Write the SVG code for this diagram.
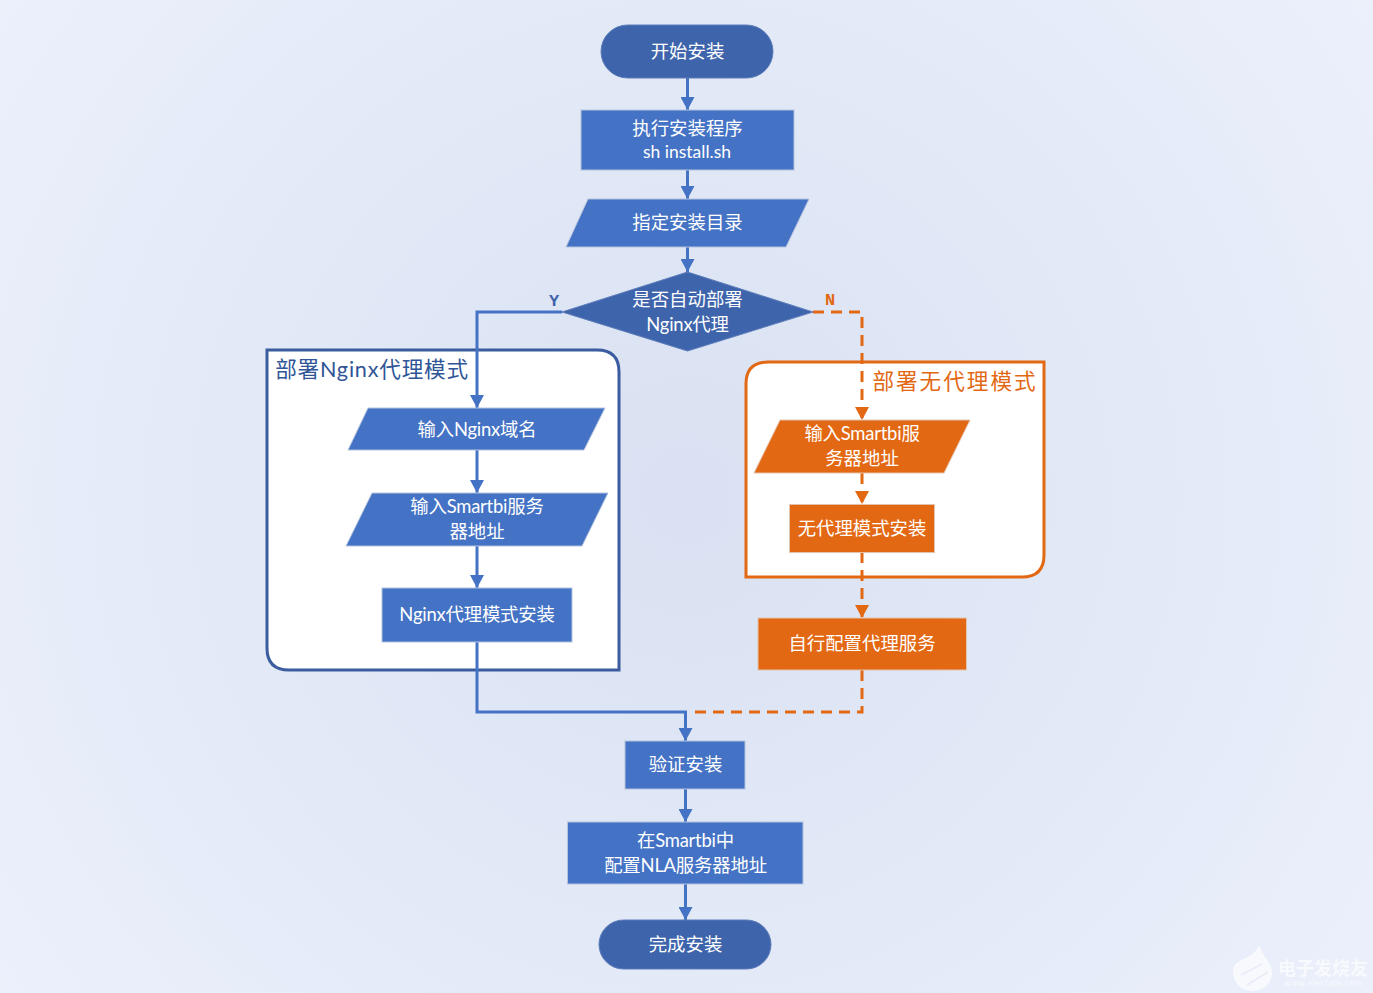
<svg xmlns="http://www.w3.org/2000/svg" width="1373" height="993" viewBox="0 0 1373 993">
<style>
text{font-family:"Lato","Noto Sans CJK SC",sans-serif;font-size:18.4px;fill:#fff;text-anchor:middle}
.m{letter-spacing:-0.2px}
.b{fill:#4472c4;stroke:#b4c3de;stroke-width:1}
.d{fill:#3e64ab;stroke:#5d7dba;stroke-width:1}
.o{fill:#e36813;stroke:#e3c3ae;stroke-width:1}
.cb{fill:none;stroke:#4472c4;stroke-width:3}
.co{fill:none;stroke:#e36813;stroke-width:3;stroke-dasharray:11 7}
.t{font-size:21.6px}
.l{font-family:"Liberation Mono",monospace;font-weight:bold;font-size:17px}
</style>
<defs>
<radialGradient id="bg" gradientUnits="userSpaceOnUse" cx="686" cy="496" r="850">
<stop offset="0" stop-color="#d9e1f2"/><stop offset="1" stop-color="#ebf0fb"/>
</radialGradient>
<marker id="ab" markerUnits="userSpaceOnUse" markerWidth="13" markerHeight="14" refX="13" refY="7" orient="auto"><path d="M0 0L13 7L0 14Z" fill="#4472c4"/></marker>
<marker id="ao" markerUnits="userSpaceOnUse" markerWidth="13" markerHeight="14" refX="13" refY="7" orient="auto"><path d="M0 0L13 7L0 14Z" fill="#e36813"/></marker>
</defs>
<rect width="1373" height="993" fill="url(#bg)"/>
<g id="group-nginx">
<path d="M267 350H597Q619 350 619 372V670H289Q267 670 267 648Z" fill="#fff" stroke="#3b5c9e" stroke-width="3"/>
<text class="t" x="372" y="377" style="fill:#2f5597" letter-spacing="0.8">部署Nginx代理模式</text>
</g>
<g id="group-direct">
<path d="M768 362H1044V555Q1044 577 1022 577H746V384Q746 362 768 362Z" fill="#fff" stroke="#e36813" stroke-width="3"/>
<text class="t" x="955" y="389" style="fill:#e36813" letter-spacing="2">部署无代理模式</text>
</g>
<g id="connectors">
<path class="cb" marker-end="url(#ab)" d="M687.500 78V110"/>
<path class="cb" marker-end="url(#ab)" d="M687.500 170V199"/>
<path class="cb" marker-end="url(#ab)" d="M687.500 247V272"/>
<path class="cb" marker-end="url(#ab)" d="M562 312H477V408"/>
<path class="cb" marker-end="url(#ab)" d="M477 450V493"/>
<path class="cb" marker-end="url(#ab)" d="M477 546V588"/>
<path class="co" marker-end="url(#ao)" d="M813 312H862V420"/>
<path class="co" marker-end="url(#ao)" d="M862 473V504"/>
<path class="co" marker-end="url(#ao)" d="M862 552V618"/>
<path class="co" d="M862 670V712H688"/>
<path class="cb" marker-end="url(#ab)" d="M477 642V712H685.500V741"/>
<path class="cb" marker-end="url(#ab)" d="M685.500 789V822"/>
<path class="cb" marker-end="url(#ab)" d="M685.500 884V920"/>
<text class="l" x="554" y="306" style="fill:#3e64ab">Y</text>
<text class="l" x="830" y="305" style="fill:#e36813">N</text>
</g>
<g id="start"><rect class="d" x="601" y="25" width="172" height="53" rx="26.500"/><text x="687.500" y="58">开始安装</text></g>
<g id="run"><rect class="b" x="581" y="110" width="213" height="60"/><text x="687.500" y="135">执行安装程序</text><text x="687" y="158" style="font-size:17.500px">sh install.sh</text></g>
<g id="dir"><path class="b" d="M588 199H809L786 247H566Z"/><text x="687.500" y="229">指定安装目录</text></g>
<g id="decide"><path class="d" d="M687.500 272L813 312L687.500 351L562 312Z"/><text x="687.500" y="306">是否自动部署</text><text class="m" x="687.500" y="330.500">Nginx代理</text></g>
<g id="domain"><path class="b" d="M368 408H605L584 450H348Z"/><text class="m" x="477" y="435.500">输入Nginx域名</text></g>
<g id="addr"><path class="b" d="M372 493H608L582 546H346Z"/><text class="m" x="477" y="513">输入Smartbi服务</text><text x="477" y="538">器地址</text></g>
<g id="install-nginx"><rect class="b" x="382" y="588" width="190" height="54"/><text class="m" x="477" y="621">Nginx代理模式安装</text></g>
<g id="addr2"><path class="o" d="M780 420H970L944 473H754Z"/><text class="m" x="862" y="440">输入Smartbi服</text><text x="862" y="465">务器地址</text></g>
<g id="install-direct"><rect class="o" x="789.500" y="504.500" width="145" height="48"/><text x="862" y="535">无代理模式安装</text></g>
<g id="proxy"><rect class="o" x="758" y="618" width="208.500" height="52"/><text x="862" y="650">自行配置代理服务</text></g>
<g id="verify"><rect class="b" x="625" y="741" width="120" height="48"/><text x="685.500" y="771">验证安装</text></g>
<g id="config"><rect class="b" x="567.500" y="822" width="235.500" height="62"/><text class="m" x="685.500" y="847">在Smartbi中</text><text class="m" x="685.500" y="872">配置NLA服务器地址</text></g>
<g id="end"><rect class="d" x="599" y="920" width="172" height="49" rx="24.500"/><text x="685.500" y="951">完成安装</text></g>
<g id="watermark" opacity="0.7">
<path d="M1259 945C1263 958 1272 962 1272 973C1272 984 1263 991 1252 991C1241 991 1233 982 1233 971C1233 958 1254 960 1259 945Z" fill="#fff"/>
<path d="M1241 975L1262 964M1247 985L1268 972" stroke="#e6ecf8" stroke-width="1.500" fill="none"/>
<text x="1323" y="975" style="font-size:18px;font-weight:bold">电子发烧友</text>
<text x="1323" y="986" style="font-size:8.500px;letter-spacing:0.5px">www.elecfans.com</text>
</g>
</svg>
